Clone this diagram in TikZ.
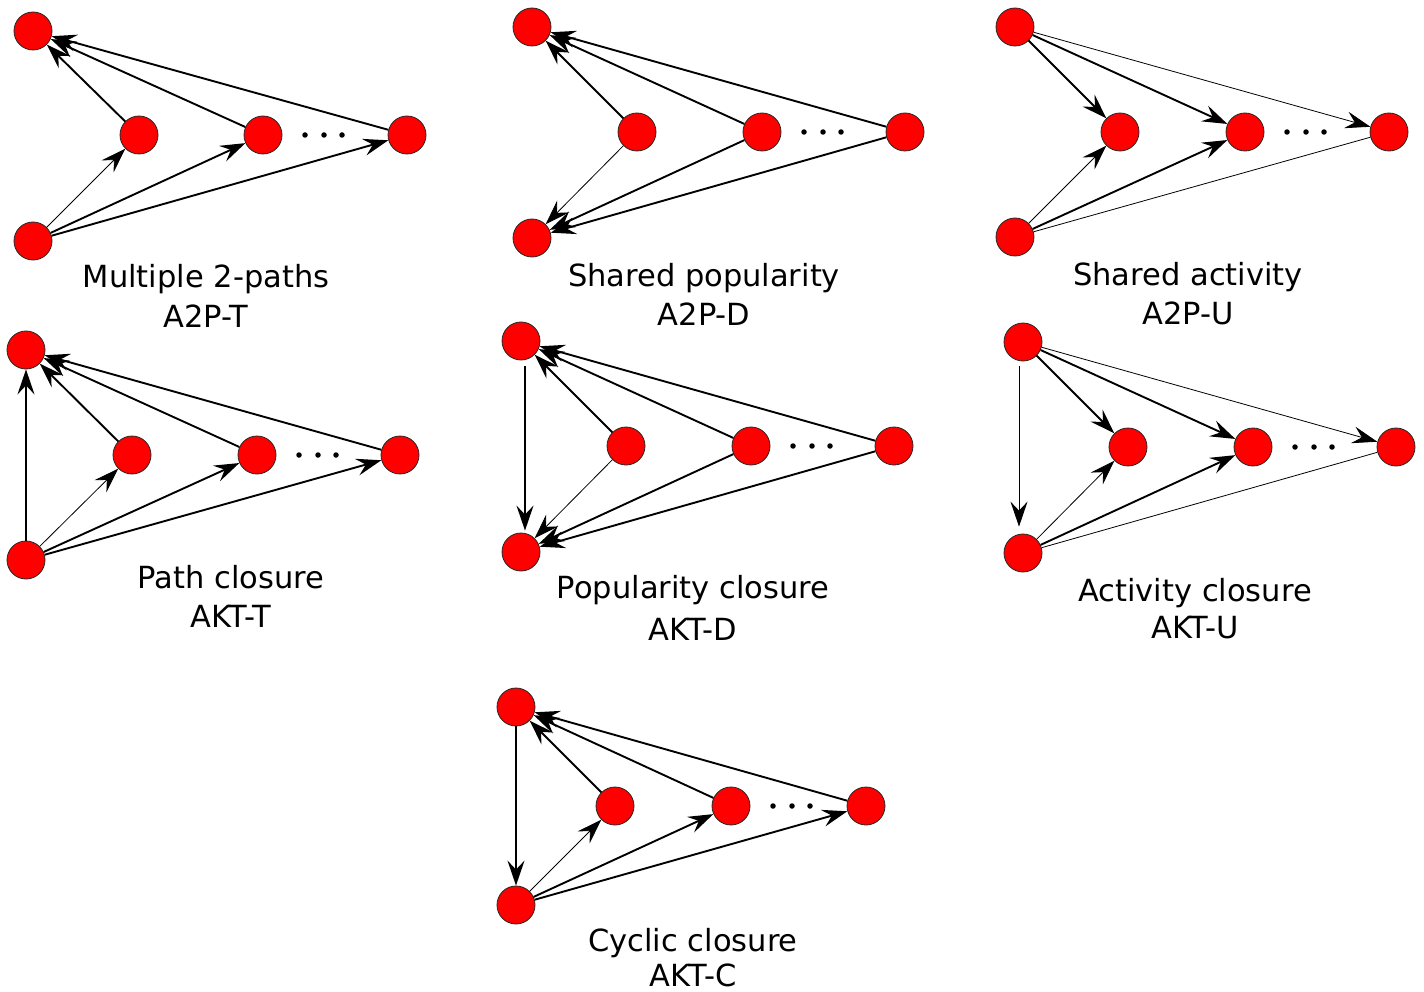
\documentclass[tikz,border=0pt]{standalone}
\usepackage{fontspec}
\setmainfont{DejaVu Sans}
\usetikzlibrary{arrows.meta}
\tikzset{
 vtx/.style={circle,fill=red,draw=black!85,line width=0.8pt,minimum size=38pt,inner sep=0pt},
 thk/.style={line width=1.9pt},
 thn/.style={line width=0.8pt},
 arr/.style={-{Stealth[length=25pt,width=17pt,inset=9pt]}},
 lbl/.style={anchor=base,font=\fontsize{30.5}{36}\selectfont,inner sep=0pt},
 dotn/.style={circle,fill=black,inner sep=0pt,minimum size=5.5pt},
}
\newcommand{\mkpanel}[8]{%
 \node[vtx] (#1t) at (#2,#3) {};
 \node[vtx] (#1b) at (#2,#4) {};
 \node[vtx] (#1m1) at (#5,#8) {};
 \node[vtx] (#1m2) at (#6,#8) {};
 \node[vtx] (#1m3) at (#7,#8) {};
 \node[dotn] (#1d1) at ([xshift=42pt]#1m2.center) {};
 \node[dotn] (#1d2) at ([xshift=61pt]#1m2.center) {};
 \node[dotn] (#1d3) at ([xshift=79pt]#1m2.center) {};
}
\begin{document}
\begin{tikzpicture}[x=1pt,y=-1pt]
\useasboundingbox (0,0) rectangle (1424,992);
% Panel 1: A2P-T
\mkpanel{a}{33}{31}{241}{139}{263}{407}{135}
\draw[thk,arr] (am1) -- (at);
\draw[thk,arr] (am2) -- (at);
\draw[thk,arr] (am3) -- (at);
\draw[thn,arr] (ab) -- (am1);
\draw[thk,arr] (ab) -- (am2);
\draw[thk,arr] (ab) -- (am3);
\node[lbl] (la1) at (206,288) {Multiple 2-paths};
\node[lbl] (la2) at (206,327) {A2P-T};
% Panel 2: A2P-D
\mkpanel{b}{532}{27}{238}{637}{762}{905}{132}
\draw[thk,arr] (bm1) -- (bt);
\draw[thk,arr] (bm2) -- (bt);
\draw[thk,arr] (bm3) -- (bt);
\draw[thn,arr] (bm1) -- (bb);
\draw[thk,arr] (bm2) -- (bb);
\draw[thk,arr] (bm3) -- (bb);
\node[lbl] (lb1) at (704,287) {Shared popularity};
\node[lbl] (lb2) at (704,325) {A2P-D};
% Panel 3: A2P-U
\mkpanel{c}{1015}{27}{237}{1120}{1245}{1389}{132}
\draw[thk,arr] (ct) -- (cm1);
\draw[thk,arr] (ct) -- (cm2);
\draw[thn,arr] (ct) -- (cm3);
\draw[thn,arr] (cb) -- (cm1);
\draw[thk,arr] (cb) -- (cm2);
\draw[thn] (cb) -- (cm3);
\node[lbl] (lc1) at (1188,286) {Shared activity};
\node[lbl] (lc2) at (1188,324) {A2P-U};
% Panel 4: AKT-T
\mkpanel{d}{26}{350}{560}{132}{257}{400}{455}
\draw[thk,arr] (db) -- (dt);
\draw[thk,arr] (dm1) -- (dt);
\draw[thk,arr] (dm2) -- (dt);
\draw[thk,arr] (dm3) -- (dt);
\draw[thn,arr] (db) -- (dm1);
\draw[thk,arr] (db) -- (dm2);
\draw[thk,arr] (db) -- (dm3);
\node[lbl] (ld1) at (231,588) {Path closure};
\node[lbl] (ld2) at (231,627) {AKT-T};
% Panel 5: AKT-D
\mkpanel{e}{521}{341}{552}{626}{751}{894}{446}
\draw[thk,arr,shorten <=6pt,shorten >=2pt] ([xshift=4pt]et.south) -- ([xshift=4pt]eb.north);
\draw[thk,arr] (em1) -- (et);
\draw[thk,arr] (em2) -- (et);
\draw[thk,arr] (em3) -- (et);
\draw[thn,arr] (em1) -- (eb);
\draw[thk,arr] (em2) -- (eb);
\draw[thk,arr] (em3) -- (eb);
\node[lbl] (le1) at (693,598) {Popularity closure};
\node[lbl] (le2) at (693,640) {AKT-D};
% Panel 6: AKT-U
\mkpanel{f}{1023}{342}{553}{1128}{1253}{1396}{447}
\draw[thn,arr,shorten <=5pt,shorten >=7pt] ([xshift=-4pt]ft.south) -- ([xshift=-4pt]fb.north);
\draw[thk,arr] (ft) -- (fm1);
\draw[thk,arr] (ft) -- (fm2);
\draw[thn,arr] (ft) -- (fm3);
\draw[thn,arr] (fb) -- (fm1);
\draw[thk,arr] (fb) -- (fm2);
\draw[thn] (fb) -- (fm3);
\node[lbl] (lf1) at (1195,601) {Activity closure};
\node[lbl] (lf2) at (1195,638) {AKT-U};
% Panel 7: AKT-C
\mkpanel{g}{516}{707}{905}{615}{731}{866}{806}
\draw[thk,arr] (gt) -- (gb);
\draw[thk,arr] (gm1) -- (gt);
\draw[thk,arr] (gm2) -- (gt);
\draw[thk,arr] (gm3) -- (gt);
\draw[thn,arr] (gb) -- (gm1);
\draw[thk,arr] (gb) -- (gm2);
\draw[thk,arr] (gb) -- (gm3);
\node[lbl] (lg1) at (693,951) {Cyclic closure};
\node[lbl] (lg2) at (693,986) {AKT-C};
\end{tikzpicture}
\end{document}
